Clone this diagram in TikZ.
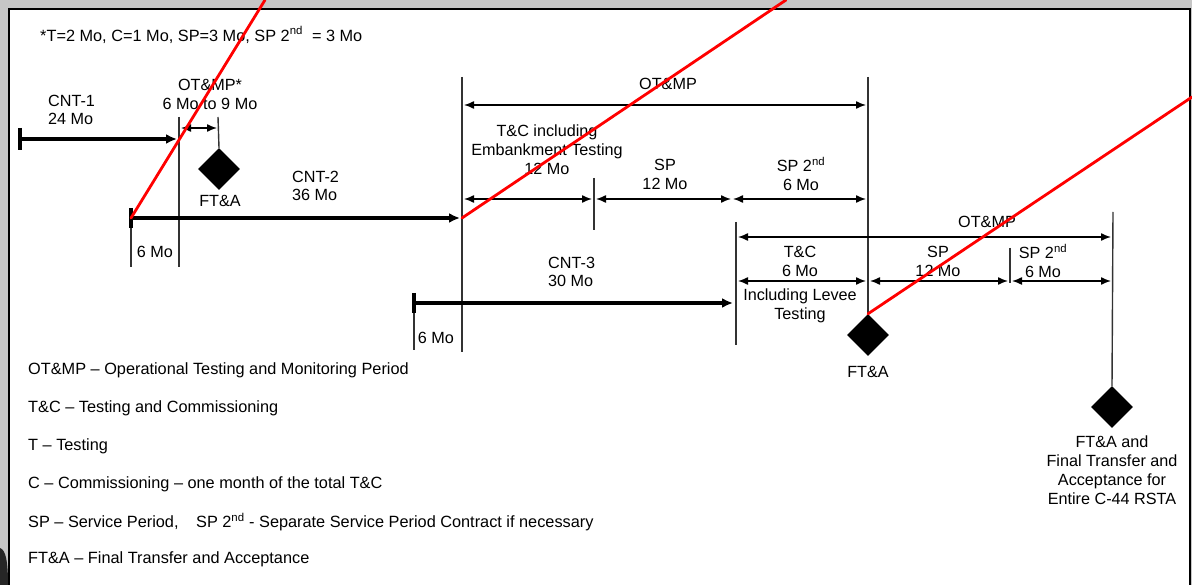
\documentclass[tikz,border=0pt]{standalone}
\usepackage{fontspec}
\setmainfont{Liberation Sans}
\usetikzlibrary{arrows.meta,shapes.geometric}
\begin{document}
\begin{tikzpicture}[x=1pt,y=-1pt,
  lbl/.style={font=\fontsize{16.2}{19}\selectfont, align=center, inner sep=0pt},
  lbll/.style={font=\fontsize{16.2}{18.5}\selectfont, align=left, inner sep=0pt, anchor=west},
  leg/.style={font=\fontsize{16.3}{19}\selectfont, inner sep=0pt, anchor=west},
  cnt/.style={line width=3.4pt, -{Latex[length=11pt,width=10pt]}},
  cnttick/.style={line width=3.6pt},
  thin/.style={line width=1.4pt, draw=black!80},
  dim/.style={line width=1.4pt, {Latex[length=10pt,width=8pt]}-{Latex[length=10pt,width=8pt]}},
  milestone/.style={diamond, aspect=1, fill=black, inner sep=0pt, minimum size=42pt},
  redline/.style={line width=2.8pt, draw=red, line cap=round}]
\useasboundingbox (0,0) rectangle (1192,585);
% frame
\fill[gray!45] (0,0) rectangle (1192,585);
\fill[white] (9,9) rectangle (1190,585);
\draw[line width=1.8pt] (9,585) -- (9,9) -- (1190,9) -- (1190,585);
\fill[black!85] (0,548) .. controls (6,550) and (8,562) .. (8,585) -- (0,585) -- cycle;

% note
\node[leg, font=\fontsize{16.3}{19}\selectfont] (note) at (40,35) {*T=2 Mo, C=1 Mo, SP=3 Mo, SP 2\textsuperscript{nd}\ \ = 3 Mo};

% ---- CNT-1
\coordinate (c1s) at (20,139); \coordinate (c1e) at (177,139);
\coordinate (c1a) at (20,128); \coordinate (c1b) at (20,150);
\draw[cnttick] (c1a) -- (c1b);
\draw[cnt] (c1s) -- (c1e);
\node[lbll] (cnt1) at (48,110) {CNT-1\\24 Mo};

\coordinate (v1a) at (179,117); \coordinate (v1b) at (179,267);
\draw[thin] (v1a) -- (v1b);
\node[milestone] (d1) at (219,169) {};
\coordinate (v2a) at (218,117);
\draw[thin] (v2a) -- (d1.north);
\coordinate (o1a) at (181,128); \coordinate (o1b) at (217,128);
\draw[dim] (o1a) -- (o1b);
\node[lbl] (otmp1) at (210,94) {OT\&MP*\\6 Mo to 9 Mo};
\node[lbl] (fta1) at (220,201) {FT\&A};

% ---- CNT-2
\coordinate (c2s) at (131,218); \coordinate (c2e) at (460,218);
\coordinate (c2a) at (131,208); \coordinate (c2b) at (131,228);
\coordinate (c2c) at (131,267);
\draw[cnttick] (c2a) -- (c2b);
\draw[thin] (c2b) -- (c2c);
\draw[cnt] (c2s) -- (c2e);
\node[lbll] (cnt2) at (292,186) {CNT-2\\36 Mo};
\node[lbl] (six1) at (155,252) {6 Mo};

% ---- first OT&MP block
\coordinate (v3a) at (462,77); \coordinate (v3b) at (462,352);
\draw[thin] (v3a) -- (v3b);
\node[milestone] (d2) at (868,335) {};
\coordinate (v4a) at (868,77);
\draw[thin] (v4a) -- (d2.north);
\coordinate (o2a) at (464,105); \coordinate (o2b) at (866,105);
\draw[dim] (o2a) -- (o2b);
\node[lbl] (otmp2) at (668,84) {OT\&MP};

\coordinate (r1a) at (464,199); \coordinate (r1b) at (592,199);
\coordinate (r1c) at (596,199); \coordinate (r1d) at (731,199);
\coordinate (r1e) at (733,199); \coordinate (r1f) at (866,199);
\coordinate (t1a) at (594,178); \coordinate (t1b) at (594,230);
\draw[dim] (r1a) -- (r1b);
\draw[dim] (r1c) -- (r1d);
\draw[dim] (r1e) -- (r1f);
\draw[thin] (t1a) -- (t1b);
\node[lbl] (tc1) at (547,150) {T\&C including\\Embankment Testing\\12 Mo};
\node[lbl] (sp1) at (665,174) {SP\\12 Mo};
\node[lbl] (sps1) at (801,174) {SP 2\textsuperscript{nd}\\6 Mo};
\node[lbl] (fta2) at (868,372) {FT\&A};

% ---- CNT-3
\coordinate (c3s) at (414,303); \coordinate (c3e) at (733,303);
\coordinate (c3a) at (414,293); \coordinate (c3b) at (414,313);
\coordinate (c3c) at (414,350);
\draw[cnttick] (c3a) -- (c3b);
\draw[thin] (c3b) -- (c3c);
\draw[cnt] (c3s) -- (c3e);
\node[lbll] (cnt3) at (548,272) {CNT-3\\30 Mo};
\node[lbl] (six2) at (436,338) {6 Mo};

% ---- second OT&MP block
\coordinate (v5a) at (736,222); \coordinate (v5b) at (736,345);
\draw[thin] (v5a) -- (v5b);
\coordinate (v6a) at (1113,212);
\node[milestone] (d3) at (1112,407) {};
\draw[thin] (v6a) -- (d3.north);
\coordinate (o3a) at (738,237); \coordinate (o3b) at (1111,237);
\draw[dim] (o3a) -- (o3b);
\node[lbl] (otmp3) at (987,222) {OT\&MP};

\coordinate (r2a) at (738,281); \coordinate (r2b) at (866,281);
\coordinate (r2c) at (870,281); \coordinate (r2d) at (1008,281);
\coordinate (r2e) at (1012,281); \coordinate (r2f) at (1111,281);
\coordinate (t2a) at (1010,248); \coordinate (t2b) at (1010,283);
\draw[dim] (r2a) -- (r2b);
\draw[dim] (r2c) -- (r2d);
\draw[dim] (r2e) -- (r2f);
\draw[thin] (t2a) -- (t2b);
\node[lbl] (tc2) at (800,261) {T\&C\\6 Mo};
\node[lbl] (lev) at (800,306) {Including Levee\\Testing};
\node[lbl] (sp2) at (938,261) {SP\\12 Mo};
\node[lbl] (sps2) at (1043,261) {SP 2\textsuperscript{nd}\\6 Mo};
\node[lbl] (fta3) at (1112,470) {FT\&A and\\Final Transfer and\\Acceptance for\\Entire C-44 RSTA};

% ---- legend
\node[leg] (l1) at (28,370) {OT\&MP -- Operational Testing and Monitoring Period};
\node[leg] (l2) at (28,408) {T\&C -- Testing and Commissioning};
\node[leg] (l3) at (28,446) {T -- Testing};
\node[leg] (l4) at (28,484) {C -- Commissioning -- one month of the total T\&C};
\node[leg] (l5) at (28,522) {SP -- Service Period,\hspace{0.8em} SP 2\textsuperscript{nd} - Separate Service Period Contract if necessary};
\node[leg] (l6) at (28,559) {FT\&A -- Final Transfer and Acceptance};

% ---- red overlay lines
\coordinate (rt1) at (265,0); \coordinate (rt2) at (786,0); \coordinate (rt3) at (1192,97);
\draw[redline] (c2s) -- (rt1);
\draw[redline] (c2e) ++(2,0) coordinate (c2x) -- (rt2);
\draw[redline] (d2.north) -- (rt3);
\end{tikzpicture}
\end{document}
